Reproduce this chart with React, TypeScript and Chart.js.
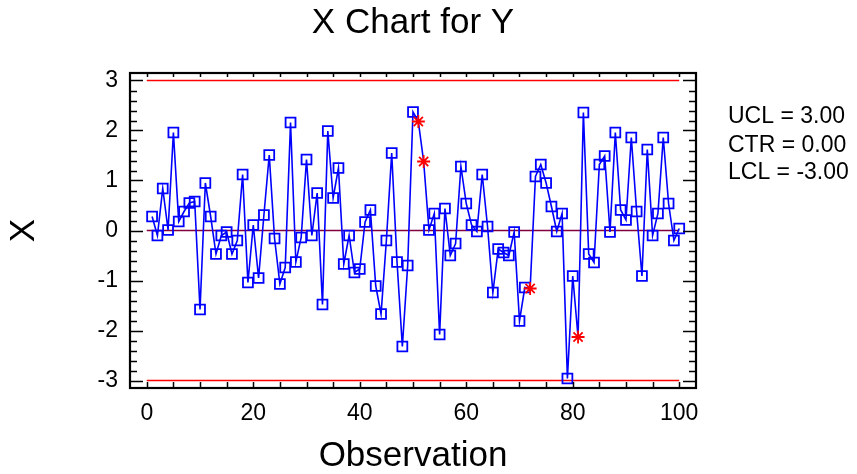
import React, { useEffect, useRef } from "react";
import { Chart, registerables } from "chart.js";

Chart.register(...registerables);

const observations: number[] = Array.from({ length: 100 }, (_, i) => i + 1);

const xValues: number[] = [
  0.28, -0.10, 0.84, 0.01, 1.96, 0.18, 0.38, 0.55, 0.58, -1.58,
  0.95, 0.28, -0.47, -0.10, -0.03, -0.47, -0.20, 1.12, -1.04, 0.11,
  -0.95, 0.31, 1.51, -0.16, -1.07, -0.74, 2.16, -0.63, -0.14, 1.42,
  -0.10, 0.75, -1.48, 1.99, 0.65, 1.25, -0.67, -0.10, -0.84, -0.77,
  0.17, 0.41, -1.11, -1.67, -0.20, 1.55, -0.63, -2.32, -0.70, 2.37,
  2.18, 1.38, 0.01, 0.34, -2.08, 0.44, -0.50, -0.26, 1.28, 0.54,
  0.11, -0.02, 1.12, 0.08, -1.24, -0.37, -0.44, -0.50, -0.03, -1.81,
  -1.14, -1.16, 1.08, 1.32, 0.95, 0.48, -0.02, 0.34, -2.96, -0.91,
  -2.13, 2.36, -0.47, -0.64, 1.32, 1.49, -0.03, 1.96, 0.41, 0.21,
  1.86, 0.38, -0.91, 1.62, -0.10, 0.34, 1.86, 0.54, -0.20, 0.04,
];

const flaggedObservations: number[] = [51, 52, 72, 81];

const UCL = 3.0;
const CTR = 0.0;
const LCL = -3.0;
const limitSpan: number[] = [0, 100];

const xTickValues: number[] = [0, 20, 40, 60, 80, 100];
const yTickValues: number[] = [-3, -2, -1, 0, 1, 2, 3];

const FONT = "'Liberation Sans', Arial, Helvetica, sans-serif";

const overlayPlugin = {
  id: "overlay",
  afterDatasetsDraw(chart: any) {
    const ctx = chart.ctx;
    const area = chart.chartArea;
    const xs = chart.scales.x;
    const ys = chart.scales.y;
    ctx.save();
    ctx.strokeStyle = "#000";
    ctx.lineWidth = 1.5;
    ctx.beginPath();
    for (let v = 0; v <= 100; v += 5) {
      const px = Math.round(xs.getPixelForValue(v)) + 0.5;
      ctx.moveTo(px, area.bottom);
      ctx.lineTo(px, area.bottom - 6);
      ctx.moveTo(px, area.top);
      ctx.lineTo(px, area.top + 4);
    }
    for (let k = -15; k <= 15; k++) {
      const v = k / 5;
      const py = Math.round(ys.getPixelForValue(v)) + 0.5;
      const len = k % 5 === 0 ? 13 : 7;
      ctx.moveTo(area.left, py);
      ctx.lineTo(area.left + len, py);
      ctx.moveTo(area.right, py);
      ctx.lineTo(area.right - len, py);
    }
    ctx.stroke();
    ctx.lineWidth = 2.2;
    ctx.strokeRect(area.left, area.top, area.right - area.left, area.bottom - area.top);
    ctx.restore();
  },
  afterDraw(chart: any) {
    const ctx = chart.ctx;
    const area = chart.chartArea;
    ctx.save();
    ctx.fillStyle = "#000";
    ctx.textBaseline = "alphabetic";
    ctx.font = `35px ${FONT}`;
    ctx.textAlign = "center";
    ctx.fillText("X Chart for Y", (area.left + area.right) / 2, 33);
    ctx.font = `23px ${FONT}`;
    ctx.textAlign = "left";
    ctx.fillText(`UCL = ${UCL.toFixed(2)}`, 728, 123);
    ctx.fillText(`CTR = ${CTR.toFixed(2)}`, 728, 151.5);
    ctx.fillText(`LCL = ${LCL.toFixed(2)}`, 728, 179);
    ctx.restore();
  },
};

export default function App() {
  const canvasRef = useRef<HTMLCanvasElement | null>(null);

  useEffect(() => {
    if (!canvasRef.current) return;
    const flagged = new Set(flaggedObservations);
    const mainData = observations.map((o, i) => ({ x: o, y: xValues[i] }));
    const isFlag = (c: any) => flagged.has(observations[c.dataIndex]);

    const chart = new Chart(canvasRef.current, {
      type: "line",
      data: {
        datasets: [
          {
            label: "X",
            data: mainData,
            borderColor: "#0000ff",
            borderWidth: 1.6,
            backgroundColor: "transparent",
            pointStyle: (c: any) => (isFlag(c) ? "star" : "rect"),
            pointRadius: (c: any) => (isFlag(c) ? 6.5 : 7),
            pointBorderColor: (c: any) => (isFlag(c) ? "#ff0000" : "#0000ff"),
            pointBorderWidth: 1.8,
            pointBackgroundColor: "transparent",
            tension: 0,
            order: 0,
          },
          {
            label: "UCL",
            data: limitSpan.map((x) => ({ x, y: UCL })),
            borderColor: "#ff0000",
            borderWidth: 1.6,
            pointRadius: 0,
            order: 1,
          },
          {
            label: "CTR",
            data: limitSpan.map((x) => ({ x, y: CTR })),
            borderColor: "#800040",
            borderWidth: 1.6,
            pointRadius: 0,
            order: 1,
          },
          {
            label: "LCL",
            data: limitSpan.map((x) => ({ x, y: LCL })),
            borderColor: "#ff0000",
            borderWidth: 1.6,
            pointRadius: 0,
            order: 1,
          },
        ],
      },
      options: {
        animation: false,
        responsive: false,
        events: [],
        layout: { padding: { top: 73, right: 161, left: 0, bottom: 0 } },
        plugins: {
          legend: { display: false },
          tooltip: { enabled: false },
          title: { display: false },
        },
        scales: {
          x: {
            type: "linear",
            min: -3.15,
            max: 103.15,
            grid: { display: false, drawTicks: false },
            border: { display: false },
            afterBuildTicks: (scale: any) => {
              scale.ticks = xTickValues.map((value) => ({ value }));
            },
            afterFit: (scale: any) => {
              scale.height = 86;
            },
            ticks: {
              autoSkip: false,
              maxRotation: 0,
              padding: 12,
              color: "#000",
              font: { size: 23, family: FONT },
              callback: (v: any) => String(v),
            },
            title: {
              display: true,
              text: "Observation",
              color: "#000",
              font: { size: 35, family: FONT, lineHeight: 1 },
              padding: { top: 0, bottom: 0 },
            },
          },
          y: {
            type: "linear",
            min: -3.15,
            max: 3.15,
            grid: { display: false, drawTicks: false },
            border: { display: false },
            afterBuildTicks: (scale: any) => {
              scale.ticks = yTickValues.map((value) => ({ value }));
            },
            afterFit: (scale: any) => {
              scale.width = 130;
            },
            ticks: {
              autoSkip: false,
              padding: 12,
              color: "#000",
              font: { size: 23, family: FONT },
              callback: (v: any) => String(v),
            },
            title: {
              display: true,
              text: "X",
              color: "#000",
              font: { size: 35, family: FONT, lineHeight: 1 },
              padding: { top: 6.5, bottom: 0 },
            },
          },
        },
      },
      plugins: [overlayPlugin],
    } as any);

    return () => chart.destroy();
  }, []);

  return (
    <div style={{ position: "fixed", left: 0, top: 0, width: 857, height: 474, background: "#fff" }}>
      <canvas ref={canvasRef} width={857} height={474} />
    </div>
  );
}
